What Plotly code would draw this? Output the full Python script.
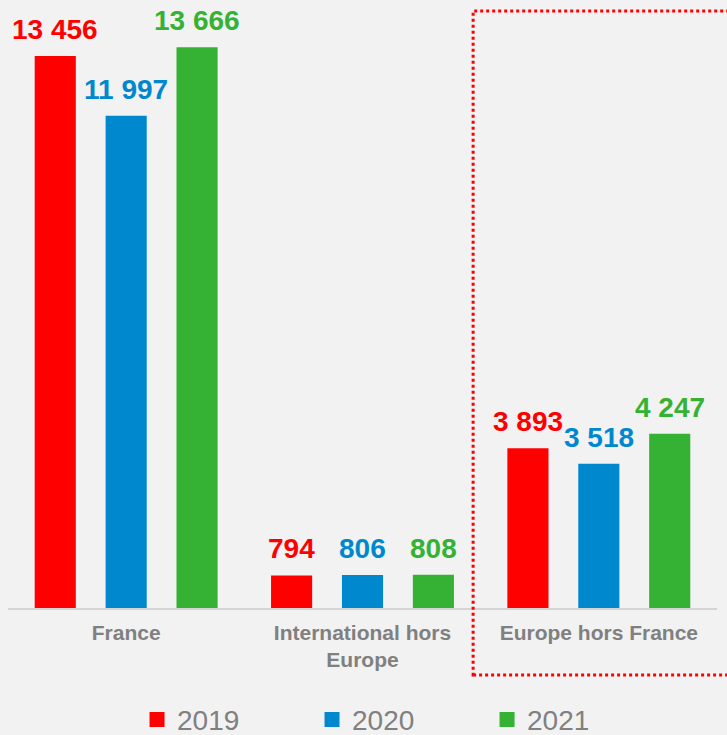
import plotly.graph_objects as go

categories = ["France", "International hors<br>Europe", "Europe hors France"]
years = ["2019", "2020", "2021"]
values_2019 = [13456, 794, 3893]
values_2020 = [11997, 806, 3518]
values_2021 = [13666, 808, 4247]

series = [values_2019, values_2020, values_2021]
colors = ["#ff0000", "#0088ce", "#35b234"]
font_family = "Liberation Sans, Arial, sans-serif"


def fmt(v):
    # séparateur de milliers à la française
    return f"{v:,}".replace(",", " ")


fig = go.Figure()

for year, vals, col in zip(years, series, colors):
    fig.add_trace(go.Bar(
        x=categories, y=vals, name=year,
        marker=dict(color=col, line=dict(width=0)),
        showlegend=False, hoverinfo="skip",
    ))
    # entrée de légende avec carré
    fig.add_trace(go.Scatter(
        x=[None], y=[None], mode="markers", name=year,
        marker=dict(symbol="square", size=15, color=col),
    ))

# étiquettes de valeur au-dessus des barres
slot = 709 * (1 - 0.1) / 3 / 3
for i, (vals, col) in enumerate(zip(series, colors)):
    for cat, v in zip(categories, vals):
        fig.add_annotation(
            x=cat, y=v, text="<b>" + fmt(v) + "</b>",
            showarrow=False, yanchor="bottom", xanchor="center",
            xshift=(i - 1) * slot, yshift=9,
            font=dict(size=28, color=col, family=font_family),
        )

# cadre pointillé autour de "Europe hors France"
fig.add_shape(
    type="rect", xref="paper", yref="paper",
    x0=0.656, x1=1.02, y0=-0.110, y1=0.982,
    line=dict(color="#ff0000", width=3, dash="dot"),
)

fig.update_layout(
    width=727, height=735,
    margin=dict(l=8, r=10, t=0, b=127, autoexpand=False),
    paper_bgcolor="#f2f2f2", plot_bgcolor="#f2f2f2",
    barmode="group", bargap=0.1, bargroupgap=0.42,
    font=dict(family=font_family, color="#808080"),
    xaxis=dict(
        showline=True, linecolor="#d4d4d4", linewidth=1.5,
        showgrid=False, ticks="", ticklabelstandoff=5, automargin=False,
        tickfont=dict(size=21, color="#808080", family=font_family),
        tickvals=categories,
        ticktext=["<b>" + c + "</b>" for c in categories],
    ),
    yaxis=dict(visible=False, range=[0, 14818]),
    legend=dict(
        orientation="h", xanchor="left", x=0.182,
        yanchor="middle", y=-0.184,
        font=dict(size=28, color="#808080", family=font_family),
        entrywidth=130, bgcolor="rgba(0,0,0,0)",
    ),
)

fig.write_html("out.html", config={"displayModeBar": False},
               post_script="document.body.style.margin='0px';")
